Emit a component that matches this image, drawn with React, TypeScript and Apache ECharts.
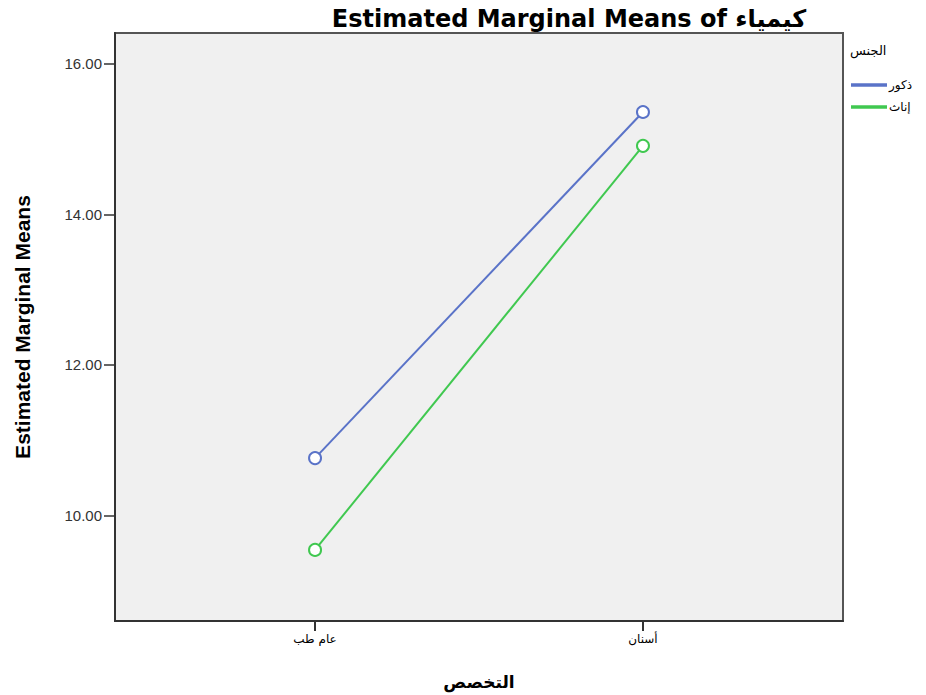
import React, { useEffect, useRef } from "react";
import * as echarts from "echarts";

const categories = ["عام طب", "أسنان"];
const maleValues = [10.76, 15.36];
const femaleValues = [9.54, 14.91];
const seriesNames = ["ذكور", "إناث"];
const yTicks = [10, 12, 14, 16];

export default function App() {
  const ref = useRef<HTMLDivElement>(null);
  useEffect(() => {
    const chart = echarts.init(ref.current!, null, { renderer: "svg" });
    const mk = (vals: number[]) => vals.map((v, i) => [i + 1, v]);
    chart.setOption({
      animation: false,
      backgroundColor: "#ffffff",
      title: {
        text: "Estimated Marginal Means of كيمياء",
        left: 564,
        top: 2,
        textAlign: "center",
        textStyle: { fontFamily: "DejaVu Sans, sans-serif", fontWeight: "bold", fontSize: 24, color: "#000" },
      },
      grid: {
        left: 115,
        top: 33,
        width: 728,
        height: 595,
        show: true,
        backgroundColor: "#f0f0f0",
        borderColor: "#555",
        borderWidth: 2,
      },
      legend: {
        orient: "vertical",
        left: 846,
        top: 74,
        itemWidth: 34,
        itemHeight: 1.5,
        itemGap: 10,
        icon: "rect",
        data: seriesNames,
        textStyle: { fontFamily: "DejaVu Sans, sans-serif", fontSize: 12, color: "#000", padding: [0, 0, 0, -2] },
      },
      graphic: [
        {
          type: "text",
          left: 850,
          top: 44,
          style: { text: "الجنس", fontFamily: "DejaVu Sans, sans-serif", fontSize: 13, fill: "#000" },
        },
      ],
      xAxis: {
        type: "value",
        min: 0.39,
        max: 2.61,
        name: "التخصص",
        nameLocation: "middle",
        nameGap: 52,
        nameTextStyle: { fontFamily: "DejaVu Sans, sans-serif", fontWeight: "bold", fontSize: 17, color: "#000" },
        splitLine: { show: false },
        axisLine: { show: true, lineStyle: { color: "#333", width: 2 } },
        axisTick: { show: true, customValues: [1, 2], length: 10, lineStyle: { color: "#333", width: 2 } },
        axisLabel: {
          customValues: [1, 2],
          formatter: (v: number) => categories[Math.round(v) - 1] ?? "",
          fontFamily: "DejaVu Sans, sans-serif",
          fontSize: 12,
          color: "#000",
          margin: 12,
        },
      },
      yAxis: {
        type: "value",
        min: 8.595,
        max: 16.41,
        name: "Estimated Marginal Means",
        nameLocation: "middle",
        nameGap: 82,
        nameRotate: 90,
        nameTextStyle: { fontFamily: "Liberation Sans Narrow, Arial Narrow, Liberation Sans, sans-serif", fontWeight: "bold", fontSize: 21, color: "#000" },
        splitLine: { show: false },
        axisLine: { show: true, lineStyle: { color: "#333", width: 2 } },
        axisTick: { show: true, customValues: yTicks, length: 11, lineStyle: { color: "#333", width: 1.5 } },
        axisLabel: {
          customValues: yTicks,
          formatter: (v: number) => v.toFixed(2),
          fontFamily: "Liberation Sans, Arial, sans-serif",
          fontSize: 15,
          color: "#333",
          margin: 13,
        },
      },
      series: [
        {
          name: seriesNames[0],
          type: "line",
          data: mk(maleValues),
          symbol: "emptyCircle",
          symbolSize: 12,
          color: "#5a73c8",
          lineStyle: { color: "#5a73c8", width: 2 },
          itemStyle: { color: "#5a73c8", borderColor: "#5a73c8", borderWidth: 1.5 },
        },
        {
          name: seriesNames[1],
          type: "line",
          data: mk(femaleValues),
          symbol: "emptyCircle",
          symbolSize: 12,
          color: "#40c850",
          lineStyle: { color: "#40c850", width: 2 },
          itemStyle: { color: "#40c850", borderColor: "#40c850", borderWidth: 1.5 },
        },
      ],
    });
    return () => chart.dispose();
  }, []);
  return <div ref={ref} style={{ position: "fixed", left: 0, top: 0, width: 926, height: 695 }} />;
}
